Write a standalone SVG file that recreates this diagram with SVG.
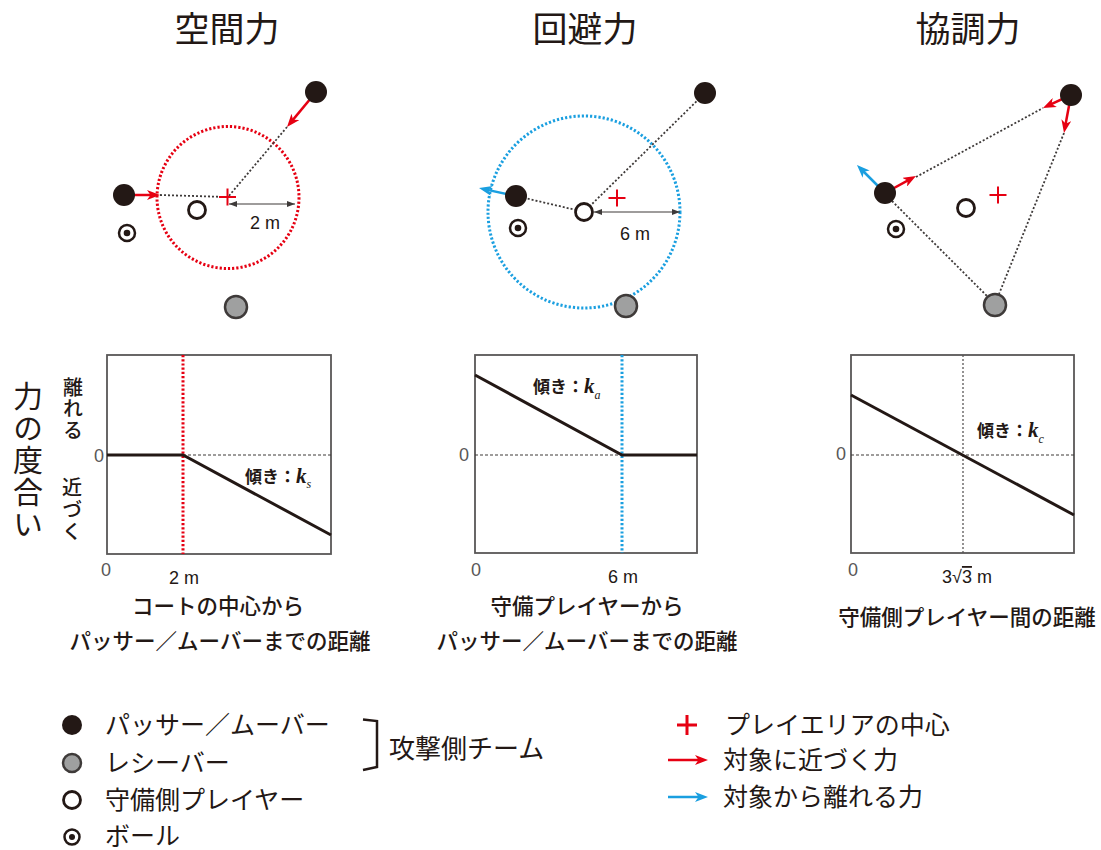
<svg xmlns="http://www.w3.org/2000/svg" width="1101" height="850" viewBox="0 0 1101 850">
<style>
.jp{font-family:"Noto Sans CJK JP","Noto Sans",sans-serif;fill:#231815}
.title{font-size:35px}
.ax{font-size:21.5px;font-weight:500}
.leg{font-size:25px}
.num{font-family:"Liberation Sans","Noto Sans",sans-serif;font-size:18px;fill:#231815}
.numg{font-family:"Liberation Sans","Noto Sans",sans-serif;font-size:18px;fill:#595757}
.slope{font-family:"Noto Sans CJK JP",sans-serif;font-size:17px;font-weight:bold;fill:#231815}
.k{font-family:"Liberation Serif",serif;font-style:italic;font-weight:bold;font-size:21px;fill:#231815}
.ksub{font-family:"Liberation Serif",serif;font-style:italic;font-size:12px;fill:#231815}
.atk{fill:#231815}
.rcv{fill:#9fa0a0;stroke:#3e3a39;stroke-width:2.5}
.def{fill:#fff;stroke:#231815;stroke-width:2.8}
.ball{fill:#fff;stroke:#231815;stroke-width:2.5}
.balli{fill:#231815}
.cross{stroke:#e60012;stroke-width:2;fill:none}
.dot{stroke:#3e3a39;stroke-width:1.8;stroke-dasharray:2 2;fill:none}
.red{stroke:#e60012;stroke-width:2.5;fill:none}
.blue{stroke:#1a9fe0;stroke-width:2.5;fill:none}
.rc{stroke:#e60012;stroke-width:3;stroke-dasharray:2.2 2;fill:none}
.bc{stroke:#1a9fe0;stroke-width:3;stroke-dasharray:2.2 2;fill:none}
.dim{stroke:#3e3a39;stroke-width:1.1;fill:none}
.frame{fill:#fff;stroke:#595757;stroke-width:1.8}
.zero{stroke:#3e3a39;stroke-width:1.1;stroke-dasharray:3 2;fill:none}
.data{stroke:#231815;stroke-width:3;fill:none}
.vgray{stroke:#595757;stroke-width:1.3;stroke-dasharray:2 2;fill:none}
.vt{writing-mode:tb;glyph-orientation-vertical:0}
</style>
<defs>
<marker id="ahR" viewBox="0 0 13 10" refX="8" refY="5" markerWidth="13" markerHeight="10" markerUnits="userSpaceOnUse" orient="auto"><path d="M0,0 L13,5 L0,10 L3.5,5 Z" fill="#e60012"/></marker>
<marker id="ahB" viewBox="0 0 13 10" refX="8" refY="5" markerWidth="13" markerHeight="10" markerUnits="userSpaceOnUse" orient="auto"><path d="M0,0 L13,5 L0,10 L3.5,5 Z" fill="#1a9fe0"/></marker>
<marker id="ahD" viewBox="0 0 8 6" refX="8" refY="3" markerWidth="8" markerHeight="6" markerUnits="userSpaceOnUse" orient="auto-start-reverse"><path d="M0,0 L8,3 L0,6 Z" fill="#3e3a39"/></marker>
</defs>
<rect width="1101" height="850" fill="#fff"/>

<!-- titles -->
<g id="titles">
<text class="jp title" x="227" y="42" text-anchor="middle">空間力</text>
<text class="jp title" x="585" y="42" text-anchor="middle">回避力</text>
<text class="jp title" x="968" y="42" text-anchor="middle">協調力</text>
</g>

<!-- circles of influence -->
<g id="areas">
<circle class="rc" cx="228" cy="197.5" r="71"/>
<circle class="bc" cx="584" cy="212" r="96"/>
</g>

<!-- connectors -->
<g id="connectors">
<line class="dot" x1="287" y1="127" x2="228" y2="197"/>
<line class="dot" x1="160" y1="195" x2="227" y2="197"/>
<line class="dim" x1="229" y1="204" x2="295" y2="204" marker-start="url(#ahD)" marker-end="url(#ahD)"/>
<line class="red" x1="316" y1="92" x2="290.2" y2="123.1" marker-end="url(#ahR)"/>
<line class="red" x1="124" y1="195" x2="155" y2="195" marker-end="url(#ahR)"/>

<line class="dot" x1="705" y1="93" x2="590" y2="206"/>
<line class="dot" x1="516" y1="196" x2="576" y2="210"/>
<line class="dim" x1="594" y1="212" x2="680" y2="212" marker-start="url(#ahD)" marker-end="url(#ahD)"/>
<line class="blue" x1="516" y1="196" x2="483.9" y2="189.1" marker-end="url(#ahB)"/>

<line class="dot" x1="916" y1="177" x2="1043" y2="108"/>
<line class="dot" x1="1064" y1="133" x2="999" y2="294"/>
<line class="dot" x1="892" y1="201" x2="988" y2="297"/>
<line class="red" x1="885" y1="193" x2="911.6" y2="178.4" marker-end="url(#ahR)"/>
<line class="blue" x1="885" y1="193" x2="860.5" y2="168.5" marker-end="url(#ahB)"/>
<line class="red" x1="1071" y1="95" x2="1047.5" y2="105.9" marker-end="url(#ahR)"/>
<line class="red" x1="1071" y1="95" x2="1064.9" y2="128.1" marker-end="url(#ahR)"/>
</g>

<!-- panel 1 nodes -->
<g id="p1-mover"><circle class="atk" cx="316" cy="92" r="11"/></g>
<g id="p1-passer"><circle class="atk" cx="124" cy="195" r="11"/></g>
<g id="p1-defender"><circle class="def" cx="197" cy="210" r="8.5"/></g>
<g id="p1-ball"><circle class="ball" cx="127" cy="233" r="8"/><circle class="balli" cx="127" cy="233" r="3.3"/></g>
<g id="p1-receiver"><circle class="rcv" cx="236" cy="307" r="11"/></g>
<g id="p1-center"><path class="cross" d="M219,197 H236 M227.5,188.5 V205.5"/></g>
<text class="num" x="265" y="229" text-anchor="middle">2 m</text>

<!-- panel 2 nodes -->
<g id="p2-mover"><circle class="atk" cx="705" cy="93" r="11"/></g>
<g id="p2-passer"><circle class="atk" cx="516" cy="196" r="11"/></g>
<g id="p2-defender"><circle class="def" cx="584" cy="212" r="8.5"/></g>
<g id="p2-ball"><circle class="ball" cx="518" cy="228" r="8"/><circle class="balli" cx="518" cy="228" r="3.3"/></g>
<g id="p2-receiver"><circle class="rcv" cx="626" cy="306" r="11"/></g>
<g id="p2-center"><path class="cross" d="M608.5,198 H625.5 M617,189.5 V206.5"/></g>
<text class="num" x="635" y="240" text-anchor="middle">6 m</text>

<!-- panel 3 nodes -->
<g id="p3-mover"><circle class="atk" cx="1071" cy="95" r="11"/></g>
<g id="p3-passer"><circle class="atk" cx="885" cy="193" r="11"/></g>
<g id="p3-defender"><circle class="def" cx="966" cy="208" r="8.5"/></g>
<g id="p3-ball"><circle class="ball" cx="896" cy="229" r="8"/><circle class="balli" cx="896" cy="229" r="3.3"/></g>
<g id="p3-receiver"><circle class="rcv" cx="995" cy="305" r="11"/></g>
<g id="p3-center"><path class="cross" d="M989.5,195 H1006.5 M998,186.5 V203.5"/></g>

<!-- y axis label -->
<g id="yaxis">
<text class="jp vt" font-size="30" letter-spacing="2" x="28" y="381">力の度合い</text>
<text class="jp vt" font-size="20" font-weight="500" letter-spacing="1.5" x="73" y="377">離れる</text>
<text class="jp vt" font-size="20" font-weight="500" letter-spacing="2" x="72" y="477">近づく</text>
</g>

<!-- graph 1 -->
<g id="graph1">
<rect class="frame" x="107" y="355" width="224" height="199"/>
<line class="zero" x1="183" y1="455" x2="331" y2="455"/>
<line class="rc" x1="183" y1="355" x2="183" y2="554"/>
<polyline class="data" points="107,455 183,455 331,535"/>
<text class="numg" x="99" y="462" text-anchor="middle">0</text>
<text class="numg" x="106" y="576" text-anchor="middle">0</text>
<text class="num" x="184" y="584" text-anchor="middle">2 m</text>
<text x="245" y="483"><tspan class="slope">傾き：</tspan><tspan class="k">k</tspan><tspan class="ksub" dy="5">s</tspan></text>
<text class="jp ax" x="218" y="614" text-anchor="middle">コートの中心から</text>
<text class="jp ax" x="220" y="649" text-anchor="middle">パッサー／ムーバーまでの距離</text>
</g>

<!-- graph 2 -->
<g id="graph2">
<rect class="frame" x="475" y="355" width="222" height="198"/>
<line class="zero" x1="475" y1="455" x2="622" y2="455"/>
<line class="bc" x1="622" y1="355" x2="622" y2="553"/>
<polyline class="data" points="475,375 622,455 697,455"/>
<text class="numg" x="464" y="461" text-anchor="middle">0</text>
<text class="numg" x="476" y="576" text-anchor="middle">0</text>
<text class="num" x="623" y="583" text-anchor="middle">6 m</text>
<text x="533" y="393"><tspan class="slope">傾き：</tspan><tspan class="k">k</tspan><tspan class="ksub" dy="6">a</tspan></text>
<text class="jp ax" x="587" y="614" text-anchor="middle">守備プレイヤーから</text>
<text class="jp ax" x="587" y="649" text-anchor="middle">パッサー／ムーバーまでの距離</text>
</g>

<!-- graph 3 -->
<g id="graph3">
<rect class="frame" x="851" y="355" width="223" height="198"/>
<line class="zero" x1="851" y1="455" x2="1074" y2="455"/>
<line class="vgray" x1="963" y1="355" x2="963" y2="553"/>
<line class="data" x1="851" y1="395" x2="1074" y2="515"/>
<text class="numg" x="841" y="460" text-anchor="middle">0</text>
<text class="numg" x="853" y="576" text-anchor="middle">0</text>
<text class="num" x="967" y="583" text-anchor="middle">3√<tspan text-decoration="overline">3</tspan> m</text>
<text x="977" y="437"><tspan class="slope">傾き：</tspan><tspan class="k">k</tspan><tspan class="ksub" dy="6">c</tspan></text>
<text class="jp ax" x="967" y="625" text-anchor="middle">守備側プレイヤー間の距離</text>
</g>

<!-- legend -->
<g id="legend-mover"><circle class="atk" cx="72" cy="725" r="10"/><text class="jp leg" x="105" y="734">パッサー／ムーバー</text></g>
<g id="legend-receiver"><circle class="rcv" cx="72" cy="763" r="9"/><text class="jp leg" x="105" y="772">レシーバー</text></g>
<g id="legend-defender"><circle class="def" cx="72" cy="800" r="8.5"/><text class="jp leg" x="105" y="809">守備側プレイヤー</text></g>
<g id="legend-ball"><circle class="ball" cx="72" cy="837" r="7.5"/><circle class="balli" cx="72" cy="837" r="3"/><text class="jp leg" x="105" y="845">ボール</text></g>
<g id="legend-team"><path d="M363,719.5 L377,721 L377,767 L363,770" fill="none" stroke="#231815" stroke-width="2.5"/><text class="jp" font-size="26" x="389" y="758">攻撃側チーム</text></g>
<g id="legend-center"><path d="M677,725 H697 M687,715 V735" stroke="#e60012" stroke-width="3" fill="none"/><text class="jp leg" x="725" y="734">プレイエリアの中心</text></g>
<g id="legend-approach"><line class="red" x1="668" y1="760" x2="703" y2="760" marker-end="url(#ahR)"/><text class="jp leg" x="723" y="769">対象に近づく力</text></g>
<g id="legend-repel"><line class="blue" x1="668" y1="797" x2="703" y2="797" marker-end="url(#ahB)"/><text class="jp leg" x="723" y="806">対象から離れる力</text></g>
</svg>
